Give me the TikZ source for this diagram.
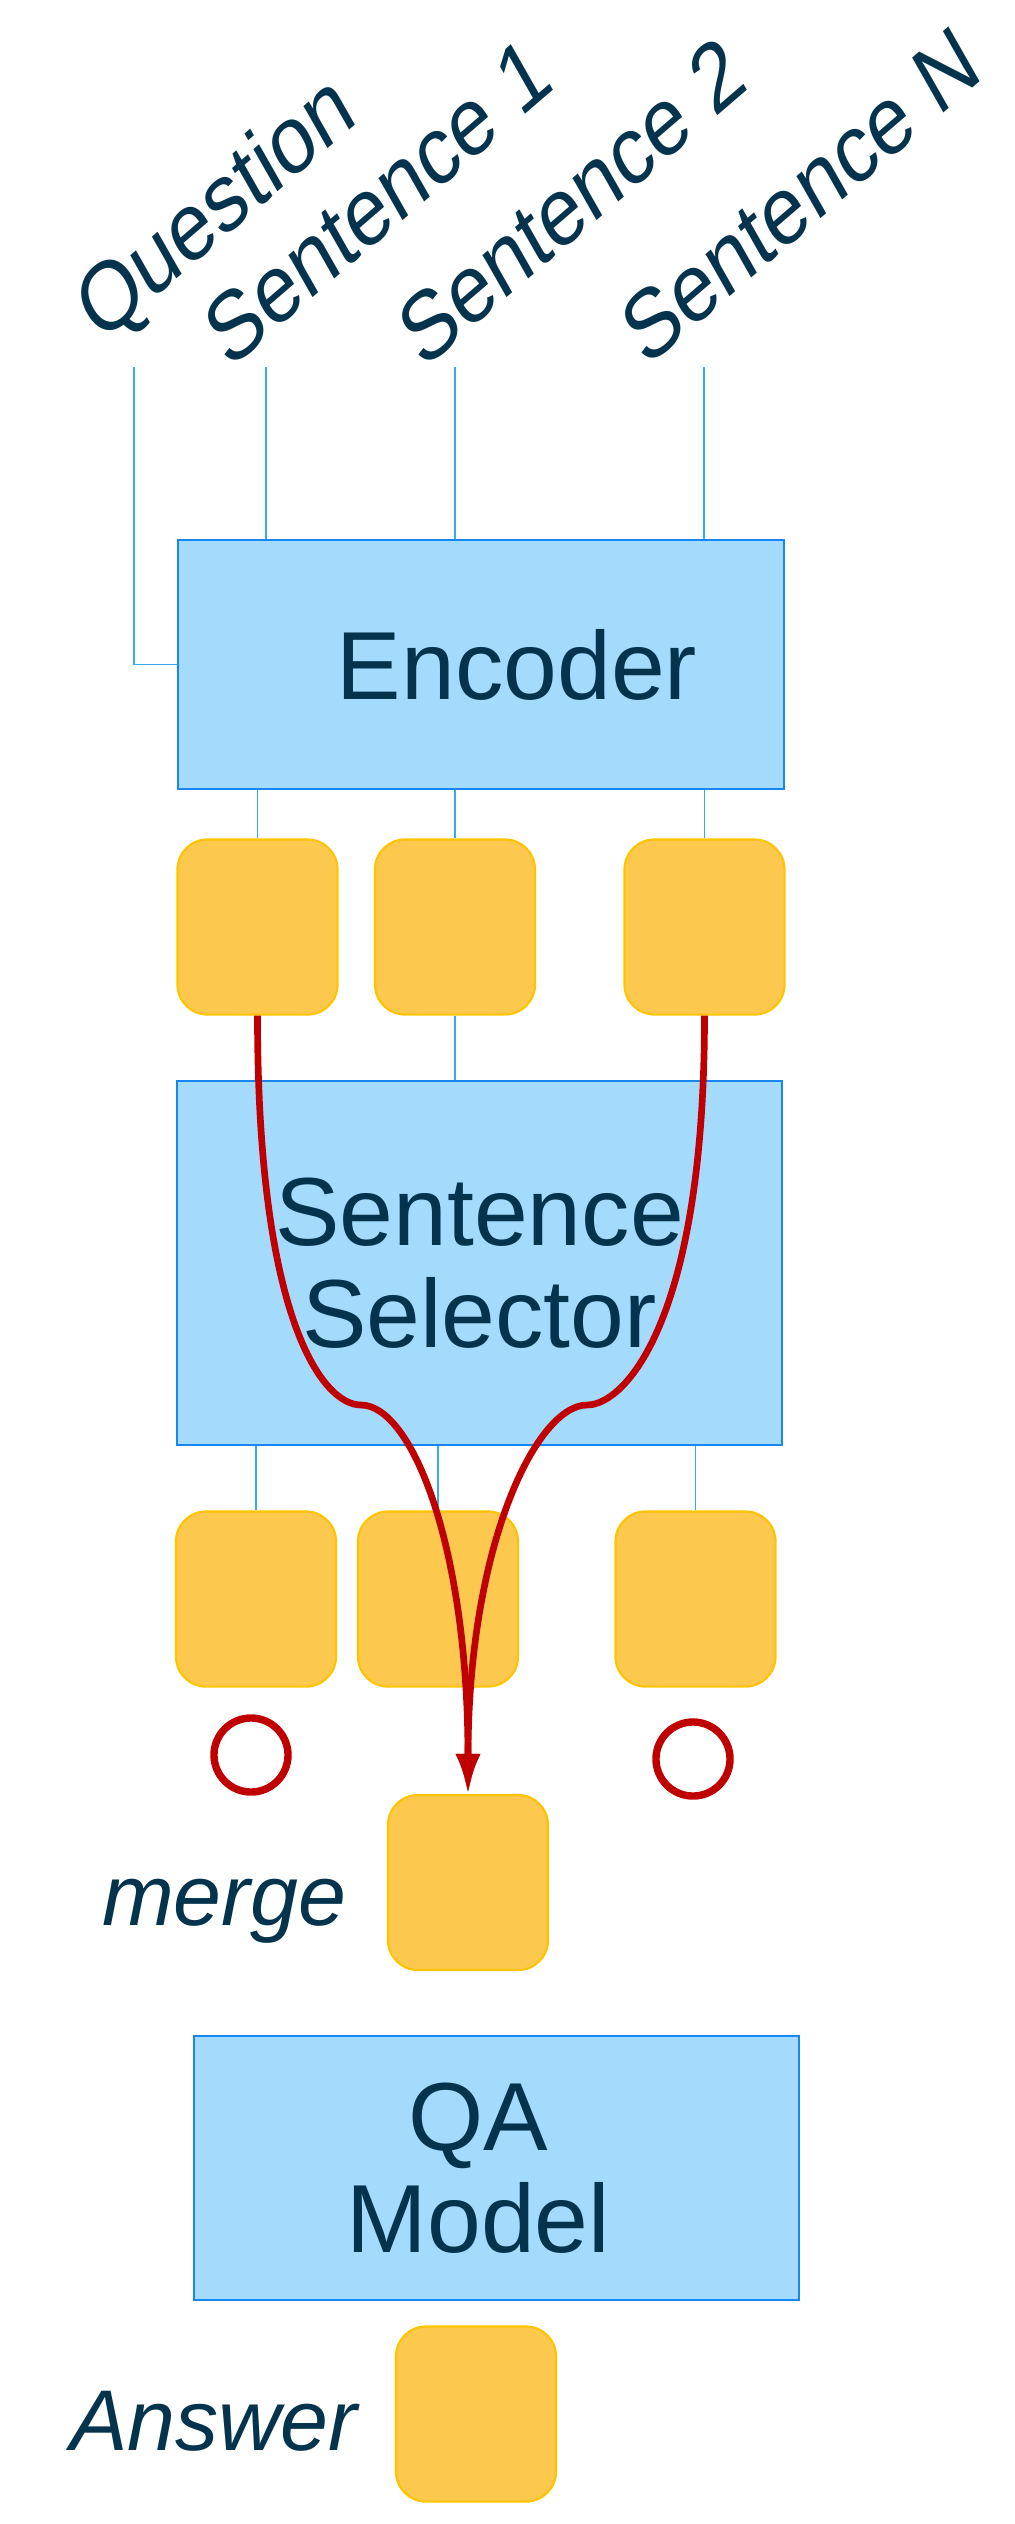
\documentclass[tikz,border=0pt]{standalone}
\usepackage{fontspec}
\setmainfont{Liberation Sans}
\usetikzlibrary{arrows.meta}
\definecolor{boxblue}{RGB}{164,218,252}
\definecolor{edgeblue}{RGB}{24,134,240}
\definecolor{wireblue}{RGB}{60,170,230}
\definecolor{cellfill}{RGB}{253,200,78}
\definecolor{celledge}{RGB}{255,196,0}
\definecolor{ink}{RGB}{4,51,77}
\definecolor{redline}{RGB}{192,0,0}
\begin{document}
\begin{tikzpicture}[x=0.01cm, y=-0.01cm, >={Latex[length=4mm,width=2.5mm]},
    blktext/.style={text=ink, font=\fontsize{27.5}{29}\selectfont, align=center},
    blk/.style={draw=edgeblue, fill=boxblue, line width=0.6pt, blktext},
    cell/.style={draw=celledge, fill=cellfill, line width=0.6pt, rounded corners=0.3cm, minimum width=1.6cm, minimum height=1.75cm, inner sep=0pt},
    lbl/.style={text=ink, font=\fontsize{24.5}{26}\selectfont\itshape, inner sep=0pt},
    tilted/.style={text=ink, font=\fontsize{22.5}{24}\selectfont, inner sep=0pt, anchor=base, yscale=1.23, rotate=35},
    wire/.style={draw=wireblue, line width=0.5pt},
    pick/.style={draw=redline, line width=1.9pt},
    drop/.style={circle, draw=redline, line width=2.1pt, minimum size=0.74cm, inner sep=0pt}]
\useasboundingbox (0,0) rectangle (1014,2524);

% inputs
\node[tilted] (tq) at (230,233) {Question};
\node[tilted] (t1) at (393,229) {Sentence 1};
\node[tilted] (t2) at (587,229) {Sentence 2};
\node[tilted] (tN) at (816,223) {Sentence N};
\coordinate (q) at (134,367);
\coordinate (s1) at (266,367);
\coordinate (s2) at (455,367);
\coordinate (sN) at (704,367);

% blocks
\node[blk, minimum width=6.06cm, minimum height=2.49cm, label={[blktext, xshift=0.36cm]center:Encoder}] (enc) at (481,664.5) {};
\node[blk, minimum width=6.05cm, minimum height=3.64cm] (sel) at (479.5,1263) {Sentence\\Selector};
\node[blk, minimum width=6.05cm, minimum height=2.64cm, label={[blktext, xshift=-0.18cm]center:QA\\Model}] (qa) at (496.5,2168) {};

\foreach \n/\x in {A/257.5, B/455, C/704.5}
    \node[cell] (h\n) at (\x,927) {};
\foreach \n/\x in {A/256, B/438, C/695.5}
    \node[cell] (l\n) at (\x,1599) {};
\node[cell] (m) at (468,1882.5) {};
\node[cell] (ans) at (476,2414) {};
\node[drop] (oA) at (251,1755) {};
\node[drop] (oC) at (693,1759) {};
\node[lbl, anchor=base east] (tmerge) at (347,1925) {merge};
\node[lbl, anchor=base east] (tans) at (358,2450) {Answer};

% wires
\draw[wire] (q) |- (enc.west);
\foreach \s in {s1,s2,sN}
    \draw[wire] (\s) -- (\s |- enc.north);
\foreach \n in {A,B,C}
    \draw[wire] (h\n.north |- enc.south) -- (h\n.north);
\draw[wire] (hB.south) -- (hB.south |- sel.north);
\foreach \n in {A,B,C}
    \draw[wire] (l\n.north |- sel.south) -- (l\n.north);

% selection
\coordinate (kL) at (361,1405);
\coordinate (kR) at (587,1405);
\draw[pick, ->] (hA.south) .. controls +(0,305) and +(-38,0) .. (kL) .. controls +(50,0) and +(0,-250) .. (m.north);
\draw[pick, ->] (hC.south) .. controls +(0,305) and +(38,0) .. (kR) .. controls +(-50,0) and +(0,-250) .. (m.north);
\end{tikzpicture}
\end{document}
